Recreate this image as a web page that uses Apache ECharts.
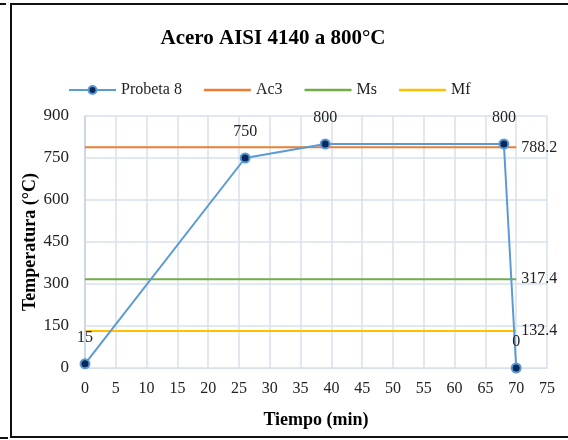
<!DOCTYPE html>
<html>
<head>
<meta charset="utf-8">
<script src="https://cdn.jsdelivr.net/npm/echarts@6/dist/echarts.min.js"></script>
<style>
  html, body { margin: 0; padding: 0; background: #fff; }
  #chart { width: 568px; height: 440px; }
</style>
</head>
<body>
<div id="chart"></div>
<script>
// datos
var tiempo = [0, 26, 39, 68, 70];
var temperatura = [15, 750, 800, 800, 0];
var limites = [0, 70];
var ac3 = 788.2, ms = 317.4, mf = 132.4;

var font = "Liberation Serif";
var chart = echarts.init(document.getElementById("chart"));
var raya = "path://M0,0 L48,0 L48,2.4 L0,2.4 Z";

function recta(nombre, valor, color) {
    return {
        name: nombre, type: "line", z: 2,
        data: limites.map(function (x) { return [x, valor] }),
        symbol: "none", lineStyle: {color: color, width: 2}, itemStyle: {color: color},
        endLabel: {show: true, distance: 5, fontFamily: font, fontSize: 16, color: "#222",
            formatter: function (p) { return p.value[1] }},
        emphasis: {disabled: true}
    }
}

chart.setOption({
    animation: false,
    title: {text: "Acero AISI 4140 a 800°C", left: 268, textAlign: "center", top: 23,
        textStyle: {fontFamily: font, fontSize: 21, fontWeight: "bold", color: "#000"}},
    legend: {left: 63, top: 77, itemWidth: 47, itemHeight: 10, itemGap: 22,
        textStyle: {fontFamily: font, fontSize: 16, color: "#222"},
        data: [{name: "Probeta 8"}, {name: "Ac3", icon: raya}, {name: "Ms", icon: raya}, {name: "Mf", icon: raya}]},
    grid: {left: 85, right: 21, top: 116, bottom: 72},
    xAxis: {type: "value", min: 0, max: 75, interval: 5,
        name: "Tiempo (min)", nameLocation: "middle", nameGap: 43, nameMoveOverlap: false,
        nameTextStyle: {fontFamily: font, fontSize: 18, fontWeight: "bold", color: "#000"},
        axisLine: {show: true, lineStyle: {color: "#d9e1ea"}}, axisTick: {show: false},
        axisLabel: {fontFamily: font, fontSize: 16, color: "#222", margin: 13},
        splitLine: {show: true, lineStyle: {color: "#d9e1ea", width: 1.5}}},
    yAxis: {type: "value", min: 0, max: 900, interval: 150,
        name: "Temperatura (°C)", nameLocation: "middle", nameGap: 46, nameMoveOverlap: false,
        nameTextStyle: {fontFamily: font, fontSize: 18, fontWeight: "bold", color: "#000"},
        axisLine: {show: true, lineStyle: {color: "#c5d3e4", width: 1.5}}, axisTick: {show: false},
        axisLabel: {fontFamily: font, fontSize: 17, color: "#222", margin: 16},
        splitLine: {lineStyle: {color: "#d9e1ea", width: 1.5}}},
    series: [
        recta("Ac3", ac3, "#ed7d31"),
        recta("Ms", ms, "#70ad47"),
        recta("Mf", mf, "#ffc000"),
        {name: "Probeta 8", type: "line", z: 5,
            data: tiempo.map(function (t, i) { return [t, temperatura[i]] }),
            symbol: "circle", symbolSize: 9,
            lineStyle: {color: "#5b9bd5", width: 2},
            itemStyle: {color: "#0b2a5b", borderColor: "#5b9bd5", borderWidth: 2},
            label: {show: true, position: "top", distance: 13, fontFamily: font, fontSize: 16, color: "#222",
                formatter: function (p) { return p.value[1] }},
            emphasis: {disabled: true}}
    ],
    graphic: [
        {type: "rect", shape: {x: 11, y: 4, width: 570, height: 433},
            style: {fill: "none", stroke: "#111", lineWidth: 2}},
        {type: "line", shape: {x1: 0, y1: 4, x2: 6, y2: 4}, style: {stroke: "#111", lineWidth: 2}},
        {type: "line", shape: {x1: 0, y1: 438, x2: 8, y2: 438}, style: {stroke: "#111", lineWidth: 2}}
    ]
});
</script>
</body>
</html>
